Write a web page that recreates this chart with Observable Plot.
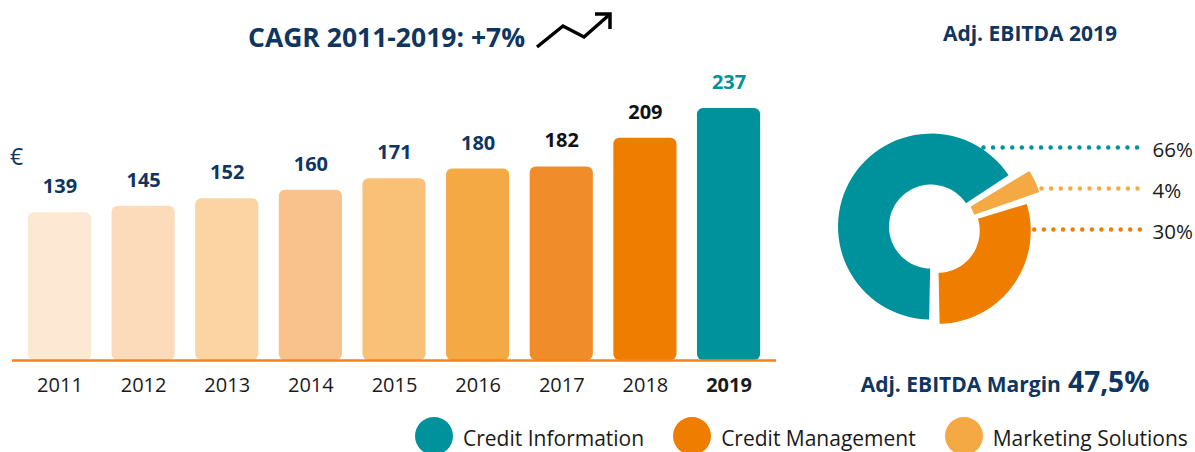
<!DOCTYPE html>
<html>
<head>
<meta charset="utf-8">
<script src="https://cdn.jsdelivr.net/npm/d3@7"></script>
<script src="https://cdn.jsdelivr.net/npm/@observablehq/plot@0.6"></script>
<style>
html, body { margin: 0; padding: 0; background: #ffffff; }
#root { position: relative; width: 1195px; height: 452px; overflow: hidden; font-family: "Open Sans", sans-serif; }
.abs { position: absolute; white-space: nowrap; line-height: 1; }
.plot { position: absolute; top: 0; }
#legend { position: absolute; left: 415px; top: 417px; display: flex; align-items: center; white-space: nowrap; }
.item { display: flex; align-items: center; margin-right: 29px; flex: none; }
.sw { width: 38px; height: 38px; border-radius: 50%; margin-right: 10px; flex: none; }
.lt { font-size: 21px; color: #1a1a1a; line-height: 1; white-space: nowrap; padding-top: 5px; }
</style>
</head>
<body>
<div id="root"></div>
<script>
// ---------- data ----------
const years = ["2011", "2012", "2013", "2014", "2015", "2016", "2017", "2018", "2019"];
const revenue = [139, 145, 152, 160, 171, 180, 182, 209, 237];
const segments = ["Credit Information", "Marketing Solutions", "Credit Management"];
const ebitdaShare = [66, 4, 30];
const legendOrder = ["Credit Information", "Credit Management", "Marketing Solutions"];
const titleText = "CAGR 2011-2019: +7%";
const donutTitle = "Adj. EBITDA 2019";
const marginLabel = "Adj. EBITDA Margin";
const marginValue = "47,5%";
const unitLabel = "€";

// ---------- styles ----------
const NAVY = "#0f3561";
const TEAL = "#00929c";
const ORANGE = "#ef7d00";
const LIGHT_ORANGE = "#f5a944";
const barColors = ["#fde9d3", "#fcdbbb", "#fcd4a3", "#f9c28c", "#f9c077", "#f5a945", "#f08c29", "#ef7d00", "#00929c"];
const segColors = [TEAL, LIGHT_ORANGE, ORANGE];
const sliceStyle = {
  "Credit Information": {r: 93, offset: 4},
  "Marketing Solutions": {r: 111, offset: 0},
  "Credit Management": {r: 93, offset: 4}
};

const root = document.getElementById("root");

function addDiv(html, css) {
  const d = document.createElement("div");
  d.className = "abs";
  d.innerHTML = html;
  Object.assign(d.style, css);
  root.appendChild(d);
  return d;
}

// ---------- bar chart ----------
const bars = years.map((year, i) => ({year, value: revenue[i], i}));
const last = years.length - 1;

const barPlot = Plot.plot({
  width: 790,
  height: 400,
  marginLeft: 12,
  marginRight: 14,
  marginTop: 41,
  marginBottom: 40,
  style: {fontFamily: "'Open Sans', sans-serif", background: "transparent", overflow: "visible"},
  x: {type: "band", domain: years, paddingInner: 0.245, paddingOuter: 0.19, round: false, axis: null},
  y: {domain: [0, 300], axis: null},
  color: {domain: years, range: barColors},
  marks: [
    Plot.barY(bars, {x: "year", y: "value", fill: "year", rx: 6}),
    Plot.ruleY([0], {stroke: "#f0851a", strokeWidth: 2.5}),
    Plot.text(bars.filter(d => d.i < 6), {x: "year", y: "value", text: d => String(d.value), dy: -26, fontSize: 20, fontWeight: 700, fill: NAVY}),
    Plot.text(bars.filter(d => d.i >= 6 && d.i < last), {x: "year", y: "value", text: d => String(d.value), dy: -26, fontSize: 20, fontWeight: 700, fill: "#111111"}),
    Plot.text(bars.filter(d => d.i === last), {x: "year", y: "value", text: d => String(d.value), dy: -26, fontSize: 20, fontWeight: 700, fill: TEAL}),
    Plot.text(bars.filter(d => d.i < last), {x: "year", text: "year", frameAnchor: "bottom", lineAnchor: "middle", dy: 25, fontSize: 20, fill: "#1a1a1a"}),
    Plot.text(bars.filter(d => d.i === last), {x: "year", text: "year", frameAnchor: "bottom", lineAnchor: "middle", dy: 25, fontSize: 20, fontWeight: 700, fill: "#1a1a1a"})
  ]
});
barPlot.classList.add("plot");
barPlot.style.left = "0px";
root.appendChild(barPlot);

// ---------- donut ----------
const pie = d3.pie().sort(null).startAngle(Math.PI).endAngle(3 * Math.PI)(ebitdaShare);
const innerR = 42;
const pad = 0.02;
const steps = 60;
const arcPoints = [];
const sliceGeo = {};
segments.forEach((segment, i) => {
  const {r, offset} = sliceStyle[segment];
  const a0 = pie[i].startAngle + pad, a1 = pie[i].endAngle - pad;
  const mid = (pie[i].startAngle + pie[i].endAngle) / 2;
  const ox = offset * Math.sin(mid), oy = -offset * Math.cos(mid);
  sliceGeo[segment] = {ox, oy, r};
  for (let k = 0; k <= steps; k++) {
    const a = a0 + (a1 - a0) * k / steps;
    arcPoints.push({segment, x: ox + r * Math.sin(a), y: oy - r * Math.cos(a)});
  }
  for (let k = steps; k >= 0; k--) {
    const a = a0 + (a1 - a0) * k / steps;
    arcPoints.push({segment, x: ox + innerR * Math.sin(a), y: oy - innerR * Math.cos(a)});
  }
});

const rowTop = -81, rowStep = 41, leaderEnd = 211, labelX = 218;
const leaders = segments.map((segment, i) => {
  const g = sliceGeo[segment];
  const y = rowTop + rowStep * i;
  const x1 = g.ox + Math.sqrt(Math.max(0, g.r * g.r - (y - g.oy) * (y - g.oy))) + 4;
  return {segment, y, x1, x2: leaderEnd, xl: labelX, label: ebitdaShare[i] + "%"};
});

const donutPlot = Plot.plot({
  width: 400,
  height: 452,
  margin: 0,
  style: {fontFamily: "'Open Sans', sans-serif", background: "transparent", overflow: "visible"},
  x: {domain: [-139, 261], range: [0, 400], axis: null},
  y: {domain: [-228, 224], range: [0, 452], axis: null},
  color: {domain: segments, range: segColors},
  marks: [
    Plot.line(arcPoints, {x: "x", y: "y", z: "segment", fill: "segment", stroke: "none", curve: "linear-closed"}),
    Plot.ruleY(leaders, {y: "y", x1: "x1", x2: "x2", stroke: "segment", strokeWidth: 4.5, strokeDasharray: "0 9.6", strokeLinecap: "round"}),
    Plot.text(leaders, {x: "xl", y: "y", text: "label", textAnchor: "start", dy: 3, fontSize: 20.5, fill: "#1a1a1a"})
  ]
});
donutPlot.classList.add("plot");
donutPlot.style.left = "795px";
root.appendChild(donutPlot);

// ---------- texts ----------
addDiv(titleText, {left: "248px", top: "24px", fontSize: "26.5px", fontWeight: "700", color: NAVY});
addDiv(unitLabel, {left: "10px", top: "145px", fontSize: "23px", color: NAVY});
addDiv(donutTitle, {left: "930px", width: "200px", textAlign: "center", top: "23px", fontSize: "21px", fontWeight: "700", color: NAVY});
addDiv(`<span style="font-size:21px">${marginLabel}</span> ${marginValue}`,
  {left: "805px", width: "400px", textAlign: "center", top: "367px", fontSize: "28px", fontWeight: "700", color: NAVY});

// trend arrow icon
addDiv(
  `<svg width="80" height="44" viewBox="0 0 80 44"><polyline points="2,37 28,16 49,27 74,5" fill="none" stroke="#000" stroke-width="3.5" stroke-linejoin="miter"/><polyline points="60,4 75,4 75,19" fill="none" stroke="#000" stroke-width="3.5" stroke-linejoin="miter"/></svg>`,
  {left: "535px", top: "10px"});

// ---------- legend ----------
const legend = document.createElement("div");
legend.id = "legend";
legendOrder.forEach(name => {
  const item = document.createElement("div");
  item.className = "item";
  const sw = document.createElement("div");
  sw.className = "sw";
  sw.style.background = segColors[segments.indexOf(name)];
  const t = document.createElement("div");
  t.className = "lt";
  t.textContent = name;
  item.appendChild(sw);
  item.appendChild(t);
  legend.appendChild(item);
});
root.appendChild(legend);
</script>
</body>
</html>
